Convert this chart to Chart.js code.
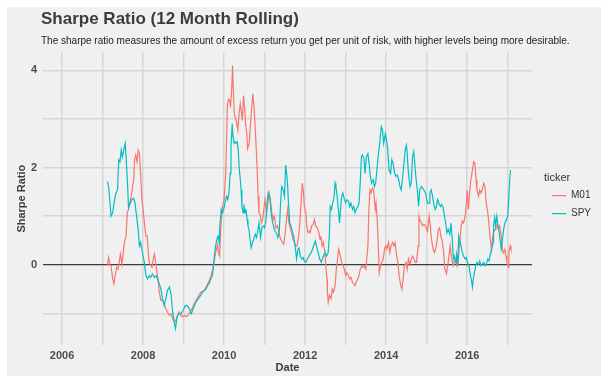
<!DOCTYPE html>
<html>
<head>
<meta charset="utf-8">
<script src="https://cdn.jsdelivr.net/npm/chart.js@4/dist/chart.umd.min.js"></script>
<style>
  html, body { margin: 0; padding: 0; background: #ffffff; }
  #chart { display: block; }
</style>
</head>
<body>
<canvas id="chart" width="608" height="388"></canvas>
<script>
// 12 month rolling sharpe ratio (dates as decimal years)
const m01Dates = [
  2007.12, 2007.15, 2007.18, 2007.21, 2007.25, 2007.28, 2007.31, 2007.35, 2007.38, 2007.41,
  2007.44, 2007.48, 2007.51, 2007.54, 2007.58, 2007.61, 2007.64, 2007.67, 2007.71, 2007.74,
  2007.77, 2007.79, 2007.82, 2007.85, 2007.88, 2007.91, 2007.94, 2007.97, 2008.00, 2008.04,
  2008.07, 2008.10, 2008.13, 2008.15, 2008.19, 2008.22, 2008.25, 2008.28, 2008.30, 2008.33,
  2008.37, 2008.40, 2008.44, 2008.48, 2008.52, 2008.56, 2008.60, 2008.65, 2008.69, 2008.73,
  2008.77, 2008.81, 2008.85, 2008.89, 2008.93, 2008.98, 2009.02, 2009.06, 2009.11, 2009.16,
  2009.21, 2009.26, 2009.35, 2009.43, 2009.51, 2009.59, 2009.63, 2009.67, 2009.71, 2009.75,
  2009.79, 2009.84, 2009.86, 2009.89, 2009.92, 2009.96, 2010.00, 2010.04, 2010.07, 2010.08,
  2010.11, 2010.14, 2010.16, 2010.19, 2010.21, 2010.22, 2010.25, 2010.27, 2010.30, 2010.34,
  2010.37, 2010.40, 2010.42, 2010.45, 2010.48, 2010.51, 2010.53, 2010.56, 2010.58, 2010.62,
  2010.64, 2010.67, 2010.71, 2010.74, 2010.78, 2010.81, 2010.84, 2010.86, 2010.89, 2010.92,
  2010.95, 2010.99, 2011.01, 2011.05, 2011.08, 2011.11, 2011.14, 2011.18, 2011.21, 2011.24,
  2011.28, 2011.32, 2011.36, 2011.40, 2011.44, 2011.47, 2011.51, 2011.54, 2011.57, 2011.60,
  2011.64, 2011.67, 2011.70, 2011.74, 2011.77, 2011.80, 2011.84, 2011.87, 2011.90, 2011.93,
  2011.96, 2011.98, 2012.02, 2012.04, 2012.07, 2012.10, 2012.13, 2012.16, 2012.20, 2012.23,
  2012.26, 2012.30, 2012.34, 2012.37, 2012.39, 2012.42, 2012.45, 2012.49, 2012.51, 2012.54,
  2012.55, 2012.57, 2012.60, 2012.64, 2012.67, 2012.70, 2012.74, 2012.77, 2012.80, 2012.83,
  2012.87, 2012.90, 2012.93, 2012.97, 2013.00, 2013.03, 2013.07, 2013.10, 2013.13, 2013.17,
  2013.20, 2013.23, 2013.26, 2013.30, 2013.33, 2013.36, 2013.40, 2013.43, 2013.46, 2013.50,
  2013.52, 2013.55, 2013.57, 2013.60, 2013.63, 2013.66, 2013.69, 2013.73, 2013.75, 2013.78,
  2013.80, 2013.83, 2013.86, 2013.89, 2013.93, 2013.96, 2013.99, 2014.02, 2014.06, 2014.09,
  2014.12, 2014.16, 2014.19, 2014.22, 2014.26, 2014.29, 2014.32, 2014.36, 2014.39, 2014.42,
  2014.45, 2014.49, 2014.52, 2014.55, 2014.59, 2014.62, 2014.65, 2014.69, 2014.72, 2014.75,
  2014.79, 2014.81, 2014.83, 2014.87, 2014.90, 2014.93, 2014.97, 2015.02, 2015.06, 2015.09,
  2015.12, 2015.16, 2015.19, 2015.22, 2015.26, 2015.29, 2015.32, 2015.35, 2015.39, 2015.42,
  2015.45, 2015.49, 2015.52, 2015.55, 2015.58, 2015.62, 2015.65, 2015.68, 2015.72, 2015.75,
  2015.78, 2015.81, 2015.85, 2015.88, 2015.91, 2015.95, 2015.98, 2016.00, 2016.03, 2016.06,
  2016.09, 2016.13, 2016.16, 2016.19, 2016.22, 2016.24, 2016.28, 2016.31, 2016.34, 2016.37,
  2016.41, 2016.44, 2016.47, 2016.51, 2016.54, 2016.57, 2016.60, 2016.63, 2016.65, 2016.69,
  2016.71, 2016.74, 2016.77, 2016.80, 2016.84, 2016.87, 2016.90, 2016.93, 2016.96, 2016.98,
  2017.01, 2017.03, 2017.06, 2017.08
];
const m01Values = [
  -0.02, 0.15, 0.01, -0.02, -0.29, -0.39, -0.22, -0.05, -0.09, 0.05,
  0.22, 0.01, 0.25, 0.46, 0.59, 1.07, 1.14, 1.27, 1.41, 1.61,
  1.75, 2.16, 2.26, 2.12, 2.36, 2.29, 1.88, 1.34, 1.14, 0.80,
  0.59, 0.59, 0.25, 0.05, -0.02, -0.05, 0.12, 0.22, 0.12, -0.09,
  -0.29, -0.56, -0.73, -0.73, -0.80, -0.90, -0.97, -1.04, -1.01, -1.11,
  -1.18, -1.14, -1.04, -0.97, -1.04, -1.07, -1.04, -1.07, -1.04, -0.97,
  -0.90, -0.80, -0.67, -0.56, -0.53, -0.40, -0.33, -0.25, -0.12, 0.05,
  0.25, 0.42, 0.25, 0.18, 0.80, 1.20, 1.34, 1.88, 2.90, 3.28,
  3.41, 3.38, 3.24, 3.65, 4.10, 3.79, 3.11, 3.04, 2.97, 2.77,
  3.11, 3.31, 3.18, 2.97, 3.48, 3.18, 2.90, 2.70, 2.39, 2.50,
  2.77, 3.11, 3.52, 3.24, 2.63, 2.09, 1.41, 1.07, 1.03, 0.86,
  0.93, 1.20, 1.34, 1.07, 1.27, 1.48, 1.34, 1.07, 0.93, 1.00,
  0.76, 0.80, 0.63, 0.52, 0.46, 0.42, 0.66, 0.93, 1.14, 0.86,
  0.73, 0.66, 0.52, 0.46, 0.39, 0.39, 0.59, 0.86, 1.27, 1.68,
  1.48, 1.20, 1.07, 0.80, 0.66, 0.69, 0.66, 0.80, 0.83, 0.93,
  0.80, 0.76, 0.66, 0.52, 0.59, 0.39, 0.46, 0.25, -0.02, -0.29,
  -0.56, -0.77, -0.63, -0.70, -0.50, -0.56, -0.43, -0.09, 0.12, 0.32,
  0.18, 0.05, -0.02, -0.09, -0.22, -0.16, -0.22, -0.29, -0.26, -0.36,
  -0.39, -0.43, -0.36, -0.29, -0.22, -0.09, -0.02, -0.05, -0.02, -0.09,
  0.12, 0.39, 1.07, 1.54, 1.48, 1.58, 1.54, 1.14, 1.27, 0.93,
  0.52, -0.16, -0.02, 0.05, 0.12, 0.32, 0.39, 0.32, 0.46, 0.25,
  0.39, 0.46, 0.39, 0.46, 0.18, 0.05, -0.22, -0.43, -0.50, -0.29,
  -0.02, 0.05, -0.09, 0.12, 0.01, 0.12, 0.18, 0.12, 0.05, 0.05,
  0.39, 1.00, 0.93, 0.86, 0.80, 0.83, 0.80, 0.69, 1.00, 0.80,
  0.52, 0.32, 0.25, 0.32, 0.52, 0.73, 0.76, 0.59, 0.46, 0.25,
  -0.09, -0.19, -0.02, 0.18, 0.39, 0.12, -0.02, 0.05, 0.12, -0.02,
  0.12, 0.39, 0.80, 0.90, 0.86, 1.00, 1.27, 1.54, 1.14, 1.48,
  1.75, 1.95, 2.12, 2.09, 1.75, 1.54, 1.41, 1.54, 1.48, 1.54,
  1.68, 1.61, 1.27, 1.07, 0.80, 0.52, 0.32, 0.59, 0.66, 0.73,
  0.80, 0.83, 0.73, 0.80, 0.59, 0.32, 0.25, 0.32, 0.18, 0.05,
  -0.05, 0.25, 0.39, 0.32
];

const spyDates = [
  2007.12, 2007.15, 2007.21, 2007.23, 2007.25, 2007.29, 2007.33, 2007.37, 2007.40, 2007.43,
  2007.46, 2007.49, 2007.53, 2007.56, 2007.58, 2007.62, 2007.64, 2007.67, 2007.72, 2007.77,
  2007.80, 2007.84, 2007.87, 2007.91, 2007.94, 2007.97, 2008.03, 2008.07, 2008.11, 2008.15,
  2008.19, 2008.23, 2008.28, 2008.32, 2008.36, 2008.40, 2008.44, 2008.48, 2008.52, 2008.56,
  2008.60, 2008.65, 2008.69, 2008.73, 2008.77, 2008.80, 2008.84, 2008.88, 2008.93, 2008.99,
  2009.04, 2009.09, 2009.14, 2009.19, 2009.24, 2009.30, 2009.39, 2009.47, 2009.55, 2009.59,
  2009.63, 2009.67, 2009.71, 2009.74, 2009.76, 2009.79, 2009.82, 2009.85, 2009.88, 2009.90,
  2009.93, 2009.96, 2009.99, 2010.02, 2010.06, 2010.09, 2010.12, 2010.15, 2010.17, 2010.20,
  2010.22, 2010.25, 2010.27, 2010.30, 2010.32, 2010.35, 2010.37, 2010.40, 2010.42, 2010.44,
  2010.47, 2010.49, 2010.52, 2010.54, 2010.57, 2010.59, 2010.62, 2010.64, 2010.67, 2010.70,
  2010.73, 2010.77, 2010.80, 2010.83, 2010.86, 2010.90, 2010.93, 2010.96, 2011.00, 2011.03,
  2011.06, 2011.09, 2011.13, 2011.16, 2011.19, 2011.23, 2011.26, 2011.29, 2011.33, 2011.36,
  2011.39, 2011.42, 2011.46, 2011.49, 2011.52, 2011.56, 2011.59, 2011.62, 2011.65, 2011.69,
  2011.72, 2011.75, 2011.79, 2011.82, 2011.85, 2011.88, 2011.92, 2011.95, 2011.98, 2012.02,
  2012.05, 2012.08, 2012.12, 2012.15, 2012.18, 2012.21, 2012.25, 2012.28, 2012.31, 2012.36,
  2012.40, 2012.45, 2012.49, 2012.53, 2012.57, 2012.60, 2012.62, 2012.65, 2012.68, 2012.71,
  2012.74, 2012.76, 2012.79, 2012.82, 2012.85, 2012.88, 2012.90, 2012.93, 2012.97, 2013.00,
  2013.03, 2013.07, 2013.10, 2013.13, 2013.17, 2013.20, 2013.23, 2013.26, 2013.30, 2013.33,
  2013.36, 2013.39, 2013.41, 2013.45, 2013.48, 2013.51, 2013.55, 2013.58, 2013.61, 2013.64,
  2013.68, 2013.71, 2013.74, 2013.78, 2013.81, 2013.84, 2013.88, 2013.91, 2013.94, 2013.98,
  2014.01, 2014.04, 2014.07, 2014.11, 2014.14, 2014.17, 2014.21, 2014.24, 2014.27, 2014.31,
  2014.34, 2014.37, 2014.40, 2014.44, 2014.47, 2014.50, 2014.52, 2014.55, 2014.59, 2014.62,
  2014.65, 2014.68, 2014.70, 2014.74, 2014.77, 2014.80, 2014.83, 2014.87, 2014.90, 2014.93,
  2014.97, 2015.02, 2015.06, 2015.08, 2015.11, 2015.14, 2015.17, 2015.21, 2015.24, 2015.27,
  2015.30, 2015.34, 2015.37, 2015.40, 2015.44, 2015.47, 2015.50, 2015.53, 2015.57, 2015.60,
  2015.63, 2015.66, 2015.68, 2015.72, 2015.74, 2015.77, 2015.79, 2015.81, 2015.85, 2015.88,
  2015.91, 2015.95, 2015.98, 2016.01, 2016.05, 2016.08, 2016.10, 2016.13, 2016.15, 2016.18,
  2016.21, 2016.24, 2016.28, 2016.31, 2016.34, 2016.37, 2016.41, 2016.44, 2016.47, 2016.51,
  2016.54, 2016.57, 2016.60, 2016.64, 2016.65, 2016.68, 2016.70, 2016.73, 2016.75, 2016.79,
  2016.82, 2016.84, 2016.87, 2016.90, 2016.93, 2016.97, 2017.00, 2017.02, 2017.05, 2017.07
];
const spyValues = [
  1.71, 1.61, 1.00, 1.00, 1.07, 1.31, 1.48, 1.54, 2.16, 2.12,
  2.36, 2.22, 2.39, 2.50, 2.22, 1.61, 1.17, 1.24, 1.34, 1.37,
  1.27, 1.00, 0.80, 0.39, 0.46, 0.32, 0.05, -0.22, -0.29, -0.22,
  -0.26, -0.19, -0.26, -0.22, -0.29, -0.39, -0.50, -0.70, -0.84, -0.70,
  -0.53, -0.46, -0.60, -0.97, -1.18, -1.31, -1.07, -1.01, -1.01, -0.94,
  -0.84, -0.84, -0.90, -1.01, -0.90, -0.77, -0.67, -0.56, -0.50, -0.43,
  -0.39, -0.29, -0.22, -0.02, 0.18, 0.39, 0.52, 0.59, 0.46, 0.86,
  1.14, 1.07, 1.14, 1.27, 1.41, 1.34, 1.48, 1.88, 2.43, 2.90,
  2.63, 2.50, 2.53, 2.50, 2.53, 2.36, 2.02, 1.75, 1.54, 1.20,
  1.07, 1.24, 1.07, 1.14, 0.93, 0.80, 0.69, 0.52, 0.35, 0.46,
  0.52, 0.63, 0.56, 0.69, 0.86, 0.56, 0.76, 0.80, 0.76, 0.90,
  1.27, 1.48, 1.38, 1.07, 0.90, 0.76, 0.69, 0.66, 0.56, 0.66,
  1.20, 1.61, 1.54, 1.41, 2.05, 1.75, 1.27, 0.86, 0.80, 0.66,
  0.59, 0.39, 0.12, 0.32, 0.35, 0.18, 0.12, 0.15, 0.08, 0.05,
  0.12, 0.15, 0.22, 0.25, 0.32, 0.39, 0.49, 0.39, 0.29, 0.12,
  0.05, 0.18, 0.25, 0.18, 0.25, 0.66, 1.20, 1.14, 1.27, 1.37,
  1.68, 1.61, 1.41, 1.14, 0.86, 1.20, 1.41, 1.48, 1.34, 1.27,
  1.34, 1.31, 1.20, 1.27, 1.14, 1.20, 1.07, 1.14, 1.20, 1.27,
  1.68, 2.22, 2.26, 2.19, 1.88, 2.22, 2.29, 2.09, 1.82, 1.68,
  1.75, 1.61, 1.68, 2.02, 2.29, 2.50, 2.84, 2.77, 2.50, 2.70,
  2.56, 2.36, 1.95, 1.88, 2.16, 2.09, 1.88, 1.82, 1.85, 1.75,
  1.61, 1.54, 1.75, 2.09, 2.36, 2.46, 2.29, 1.88, 1.61, 1.68,
  2.22, 2.33, 2.16, 1.75, 1.54, 1.20, 1.54, 1.61, 1.58, 1.54,
  1.48, 1.27, 1.27, 1.48, 1.54, 1.44, 1.27, 1.14, 1.20, 1.34,
  1.27, 1.20, 1.24, 1.20, 1.00, 0.86, 0.66, 0.73, 0.63, 0.86,
  0.52, 0.12, 0.18, 0.05, 0.22, -0.02, 0.59, 0.52, 0.39, 0.25,
  0.18, 0.12, 0.15, 0.05, -0.05, -0.22, -0.29, -0.46, -0.29, -0.16,
  -0.02, 0.05, 0.01, 0.08, -0.02, 0.01, 0.05, -0.02, 0.01, 0.12,
  0.08, 0.22, 0.32, 0.46, 0.80, 0.97, 0.80, 1.00, 0.86, 0.66,
  0.46, 0.32, 0.52, 0.73, 0.86, 0.93, 1.00, 1.27, 1.75, 1.95
];

const tickers = ["M01", "SPY"];
const tickerColors = ["#F8766D", "#00BFC4"];

const CHART_TITLE = "Sharpe Ratio (12 Month Rolling)";
const CHART_SUBTITLE = "The sharpe ratio measures the amount of excess return you get per unit of risk, with higher levels being more desirable.";
const FONT = "'Liberation Sans', Arial, Helvetica, sans-serif";
const GRID = "#D6D6D6";

const toPoints = (dates, values) => dates.map((x, i) => ({ x, y: values[i] }));

// grey plot background
const plotBackground = {
  id: "plotBackground",
  beforeDraw(chart) {
    const { ctx } = chart;
    ctx.save();
    ctx.fillStyle = "#F0F0F0";
    ctx.fillRect(7, 7, 594, 369);
    ctx.restore();
  },
};

// legend gets a fixed width; titles line up with the panel like ggplot does
const layoutTweaks = {
  id: "layoutTweaks",
  beforeInit(chart) {
    const fit = chart.legend.fit;
    chart.legend.fit = function () {
      fit.call(this);
      this.width = 76;
    };
  },
  afterLayout(chart) {
    chart.boxes.forEach((box) => {
      const text = box.options && box.options.text;
      if (text === CHART_TITLE || text === CHART_SUBTITLE) {
        box.left = chart.chartArea.left - 2;
        box.right = chart.width;
      }
    });
    chart.legend.left += 12;
    chart.legend.right += 12;
    chart.legend.top += 12;
    chart.legend.bottom += 12;
  },
};

new Chart(document.getElementById("chart"), {
  type: "line",
  data: {
    datasets: [
      {
        label: tickers[0],
        data: toPoints(m01Dates, m01Values),
        borderColor: tickerColors[0],
        backgroundColor: tickerColors[0],
        borderWidth: 1.2,
        pointRadius: 0,
        tension: 0,
        order: 1,
      },
      {
        label: tickers[1],
        data: toPoints(spyDates, spyValues),
        borderColor: tickerColors[1],
        backgroundColor: tickerColors[1],
        borderWidth: 1.2,
        pointRadius: 0,
        tension: 0,
        order: 0,
      },
    ],
  },
  options: {
    responsive: false,
    animation: false,
    devicePixelRatio: 1,
    layout: { padding: { left: 14, right: 0, top: 0, bottom: 13 } },
    scales: {
      x: {
        type: "linear",
        min: 2005.53,
        max: 2017.6,
        border: { display: false },
        grid: { color: GRID, lineWidth: 1.5, drawTicks: false },
        ticks: {
          stepSize: 1,
          includeBounds: false,
          autoSkip: false,
          maxRotation: 0,
          padding: 4,
          color: "#4D4D4D",
          font: { family: FONT, size: 11, weight: "bold" },
          callback: (value) => (value % 2 === 0 ? String(value) : ""),
        },
        title: {
          display: true,
          text: "Date",
          color: "#3C3C3C",
          font: { family: FONT, size: 11, weight: "bold" },
          padding: { top: 0, bottom: 0 },
        },
        afterFit: (scale) => {
          scale.height = 30;
        },
      },
      y: {
        min: -1.65,
        max: 4.37,
        border: { display: false },
        grid: {
          drawTicks: false,
          color: (ctx) => (ctx.tick && ctx.tick.value === 0 ? "#3A3A3A" : GRID),
          lineWidth: (ctx) => (ctx.tick && ctx.tick.value === 0 ? 1.3 : 1.5),
        },
        ticks: {
          stepSize: 1,
          includeBounds: false,
          padding: 6,
          color: "#4D4D4D",
          font: { family: FONT, size: 11, weight: "bold" },
          callback: (value) => (value % 2 === 0 ? String(value) : ""),
        },
        title: {
          display: true,
          text: "Sharpe Ratio",
          color: "#3C3C3C",
          font: { family: FONT, size: 11, weight: "bold" },
          padding: { top: 1, bottom: 0 },
        },
        afterFit: (scale) => {
          scale.width = 29;
        },
      },
    },
    plugins: {
      title: {
        display: true,
        text: CHART_TITLE,
        align: "start",
        color: "#3C3C3C",
        font: { family: FONT, size: 17, weight: "bold" },
        padding: { top: 9, bottom: 0 },
      },
      subtitle: {
        display: true,
        text: CHART_SUBTITLE,
        align: "start",
        color: "#222222",
        font: { family: FONT, size: 10 },
        padding: { top: 6, bottom: 5 },
      },
      legend: {
        position: "right",
        align: "center",
        title: {
          display: true,
          text: "ticker",
          position: "start",
          color: "#333333",
          font: { family: FONT, size: 11 },
          padding: { top: 0, bottom: -3 },
        },
        labels: {
          usePointStyle: true,
          pointStyle: "line",
          pointStyleWidth: 14,
          padding: 8,
          color: "#333333",
          font: { family: FONT, size: 10 },
          sort: (a, b) => a.datasetIndex - b.datasetIndex,
        },
      },
      tooltip: { enabled: false },
    },
  },
  plugins: [plotBackground, layoutTweaks],
});
</script>
</body>
</html>
